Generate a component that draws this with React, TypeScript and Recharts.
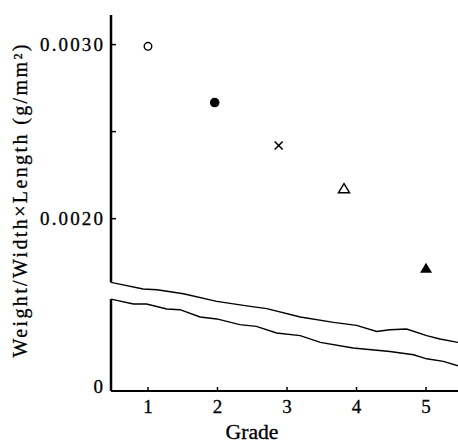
import React from "react";
import {
  ComposedChart, Line, Scatter, XAxis, YAxis, ReferenceLine,
} from "recharts";

/* ---- data ---- */

// class means per grade
const pointGrades = [1.0, 1.96, 2.88, 3.82, 5.0];
const pointValues = [0.00299, 0.002667, 0.00242, 0.002172, 0.001713];
const pointMarkers = ["openCircle", "dot", "cross", "openTriangle", "triangle"];

// upper and lower boundary curves
const upperGrades = [0.468, 0.93, 1.13, 1.51, 1.99, 2.47, 2.71, 3.19, 3.67, 4.0, 4.29, 4.48, 4.72, 5.01, 5.2, 5.46];
const upperValues = [0.001634, 0.001596, 0.001592, 0.001569, 0.001525, 0.001496, 0.001483, 0.001435, 0.001404, 0.001387, 0.001352, 0.001362, 0.001366, 0.001328, 0.001309, 0.001289];
const lowerGrades = [0.468, 0.79, 0.98, 1.27, 1.46, 1.75, 1.99, 2.32, 2.56, 2.85, 3.19, 3.48, 3.95, 4.48, 4.82, 5.01, 5.25, 5.46];
const lowerValues = [0.001538, 0.00151, 0.00151, 0.001481, 0.001477, 0.001435, 0.001424, 0.001391, 0.001381, 0.001343, 0.001328, 0.001289, 0.001257, 0.001237, 0.001218, 0.001195, 0.00118, 0.001155];

// axes
const xTicks = [1, 2, 3, 4, 5];
const yTicks = [0.00101, 0.002, 0.0025, 0.003];
const xDomain = [0.468, 5.46];
const yDomain = [0.00101, 0.00317];

const FONT = "Liberation Serif";

const points = pointGrades.map((g, i) => ({ g, v: pointValues[i], m: pointMarkers[i] }));
const upper = upperGrades.map((g, i) => ({ g, v: upperValues[i] }));
const lower = lowerGrades.map((g, i) => ({ g, v: lowerValues[i] }));

const yLabel = (v: number) => {
  if (v < 0.0015) return "0";
  if (Math.abs(v - 0.0025) < 1e-6) return "";
  return v.toFixed(4);
};

const txt = { fontFamily: FONT, fill: "#000", stroke: "#000", strokeWidth: 0.3 };

const XTick = ({ x, y, payload }: any) => (
  <g>
    <line x1={x} y1={y} x2={x} y2={y - 4} stroke="#000" strokeWidth={1.5} />
    <text x={x} y={y + 22} textAnchor="middle" fontSize={19} style={txt}>
      {payload.value}
    </text>
  </g>
);

const YTick = ({ x, y, payload }: any) => {
  const label = yLabel(payload.value);
  const isZero = label === "0";
  return (
    <g>
      {!isZero && <line x1={x} y1={y} x2={x + 5} y2={y} stroke="#000" strokeWidth={1.5} />}
      {label !== "" && (
        <text
          x={x - 8} y={isZero ? y + 2 : y + 6} textAnchor="end" fontSize={19} style={txt}
          {...(isZero ? {} : { textLength: 63, lengthAdjust: "spacing" })}
        >
          {label}
        </text>
      )}
    </g>
  );
};

const Marker = (props: any) => {
  const { cx, cy, payload } = props;
  if (cx == null || cy == null) return null;
  switch (payload.m) {
    case "openCircle":
      return <circle cx={cx} cy={cy} r={3.8} fill="#fff" stroke="#000" strokeWidth={1.4} />;
    case "dot":
      return <circle cx={cx} cy={cy} r={4.8} fill="#000" />;
    case "cross":
      return (
        <g stroke="#000" strokeWidth={1.6}>
          <line x1={cx - 4} y1={cy - 4} x2={cx + 4} y2={cy + 4} />
          <line x1={cx - 4} y1={cy + 4} x2={cx + 4} y2={cy - 4} />
        </g>
      );
    case "openTriangle":
      return (
        <polygon points={`${cx},${cy - 5} ${cx + 5.5},${cy + 4} ${cx - 5.5},${cy + 4}`}
          fill="#fff" stroke="#000" strokeWidth={1.5} />
      );
    default:
      return <polygon points={`${cx},${cy - 6} ${cx + 6},${cy + 4} ${cx - 6},${cy + 4}`} fill="#000" />;
  }
};

export default function App() {
  return (
    <div style={{ position: "absolute", left: 0, top: 0, background: "#fff" }}>
      <ComposedChart width={458} height={447} margin={{ top: 15, right: 0, bottom: 0, left: 0 }}>
        <XAxis
          type="number" dataKey="g" domain={xDomain} ticks={xTicks} allowDataOverflow
          height={56} tickSize={0} tickMargin={0} tickLine={false} tick={<XTick />}
          axisLine={{ stroke: "#000", strokeWidth: 2 }}
          label={({ viewBox }: any) => (
            <text x={viewBox.x + 141} y={viewBox.y + 48} textAnchor="middle" style={txt}
              fontSize={20} textLength={53} lengthAdjust="spacingAndGlyphs">Grade</text>
          )}
        />
        <YAxis
          type="number" dataKey="v" domain={yDomain} ticks={yTicks} allowDataOverflow
          width={111} tickSize={0} tickMargin={0} tickLine={false} axisLine={false} tick={<YTick />}
          label={({ viewBox }: any) => {
            const cx = viewBox.x + 20;
            const cy = viewBox.y + viewBox.height / 2 - 2;
            return (
              <text x={cx} y={cy} transform={`rotate(-90 ${cx} ${cy})`} textAnchor="middle"
                dominantBaseline="central" fontSize={20} style={txt}
                textLength={313} lengthAdjust="spacing">
                Weight/Width×Length (g/mm²)
              </text>
            );
          }}
        />

        {/* broken y axis: two segments meeting the boundary curves */}
        <ReferenceLine segment={[{ x: xDomain[0], y: yDomain[1] }, { x: xDomain[0], y: upperValues[0] }]}
          stroke="#000" strokeWidth={2.5} ifOverflow="visible" />
        <ReferenceLine segment={[{ x: xDomain[0], y: lowerValues[0] }, { x: xDomain[0], y: yDomain[0] }]}
          stroke="#000" strokeWidth={2.5} ifOverflow="visible" />

        <Line data={upper} dataKey="v" type="linear" stroke="#000" strokeWidth={1.4} dot={false} isAnimationActive={false} />
        <Line data={lower} dataKey="v" type="linear" stroke="#000" strokeWidth={1.4} dot={false} isAnimationActive={false} />

        <Scatter data={points} dataKey="v" shape={<Marker />} isAnimationActive={false} />
      </ComposedChart>
    </div>
  );
}
